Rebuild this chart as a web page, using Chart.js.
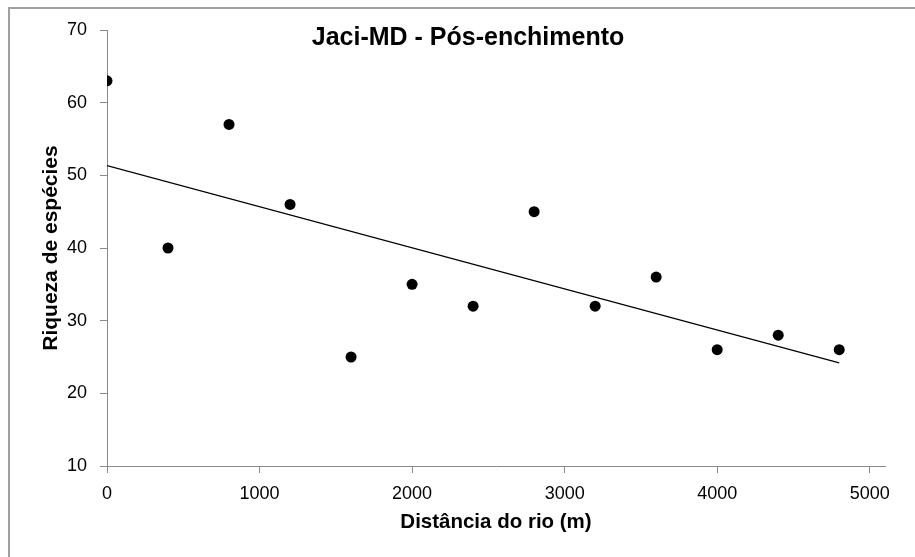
<!DOCTYPE html>
<html>
<head>
<meta charset="utf-8">
<script src="https://cdn.jsdelivr.net/npm/chart.js@4/dist/chart.umd.min.js"></script>
<style>
  html, body { margin: 0; padding: 0; background: #fff; }
  canvas { display: block; }
</style>
</head>
<body>
<canvas id="riqueza" width="915" height="557"></canvas>
<script>
// Jaci-MD, pós-enchimento: riqueza por distância do rio
var distancias = [0, 400, 800, 1200, 1600, 2000, 2400, 2800, 3200, 3600, 4000, 4400, 4800];
var riqueza = [63, 40, 57, 46, 25, 35, 32, 45, 32, 36, 26, 28, 26];
var yTicks = [10, 20, 30, 40, 50, 60, 70];
var xTicks = [0, 1000, 2000, 3000, 4000, 5000];

var titulo = 'Jaci-MD - Pós-enchimento';
var tituloX = 'Distância do rio (m)';
var tituloY = 'Riqueza de espécies';

var fonte = "'Liberation Sans', Arial, sans-serif";
var cinza = '#8a8a8a';

// linha de tendência (mínimos quadrados)
function tendencia(xs, ys) {
  var n = xs.length, mx = 0, my = 0;
  for (var i = 0; i < n; i++) { mx += xs[i]; my += ys[i]; }
  mx /= n; my /= n;
  var sxy = 0, sxx = 0;
  for (var i = 0; i < n; i++) {
    sxy += (xs[i] - mx) * (ys[i] - my);
    sxx += (xs[i] - mx) * (xs[i] - mx);
  }
  var b = sxy / sxx, a = my - b * mx;
  var x0 = xs[0], x1 = xs[n - 1];
  return [{x: x0, y: a + b * x0}, {x: x1, y: a + b * x1}];
}

var pontos = distancias.map(function (d, i) { return {x: d, y: riqueza[i]}; });

var moldura = {
  id: 'moldura',
  beforeDraw: function (chart) {
    var c = chart.ctx;
    c.save();
    c.strokeStyle = '#a0a0a0';
    c.lineWidth = 2;
    c.beginPath();
    c.moveTo(9, chart.height);
    c.lineTo(9, 8);
    c.lineTo(chart.width, 8);
    c.stroke();
    c.restore();
  },
  afterDraw: function (chart) {
    var c = chart.ctx;
    c.save();
    c.fillStyle = '#000';
    c.font = 'bold 25px ' + fonte;
    c.textAlign = 'center';
    c.textBaseline = 'middle';
    c.fillText(titulo, 468, 38);
    c.restore();
  }
};

function semSeparador(v) { return String(v); }

var ctx = document.getElementById('riqueza').getContext('2d');
var grafico = new Chart(ctx, {
  type: 'scatter',
  data: {
    datasets: [{
      data: pontos,
      backgroundColor: '#000',
      borderWidth: 0,
      pointRadius: 5.5,
      pointHoverRadius: 5.5
    }, {
      type: 'line',
      data: tendencia(distancias, riqueza),
      borderColor: '#000',
      borderWidth: 1.2,
      pointRadius: 0,
      fill: false
    }]
  },
  options: {
    responsive: false,
    animation: false,
    devicePixelRatio: 1,
    layout: { padding: { left: 0, right: 30, top: 30, bottom: 0 } },
    plugins: {
      legend: { display: false },
      tooltip: { enabled: false },
      title: { display: false }
    },
    scales: {
      x: {
        type: 'linear',
        min: 0,
        max: 5100,
        afterBuildTicks: function (s) {
          s.ticks = xTicks.map(function (v) { return {value: v}; });
        },
        afterFit: function (s) { s.height = 91; },
        border: { display: true, color: cinza, width: 1 },
        grid: { drawOnChartArea: false, drawTicks: true, tickLength: 7, tickColor: cinza },
        ticks: { color: '#000', font: { family: fonte, size: 18 }, padding: 10, maxRotation: 0, callback: semSeparador },
        title: {
          display: true,
          text: tituloX,
          color: '#000',
          font: { family: fonte, size: 20.5, weight: 'bold' },
          padding: { top: 0, bottom: 22 }
        }
      },
      y: {
        type: 'linear',
        min: 10,
        max: 70,
        afterBuildTicks: function (s) {
          s.ticks = yTicks.map(function (v) { return {value: v}; });
        },
        afterFit: function (s) { s.width = 107; },
        border: { display: true, color: cinza, width: 1 },
        grid: { drawOnChartArea: false, drawTicks: true, tickLength: 7, tickColor: cinza },
        ticks: { color: '#000', font: { family: fonte, size: 18 }, padding: 13, callback: semSeparador },
        title: {
          display: true,
          text: tituloY,
          color: '#000',
          font: { family: fonte, size: 21, weight: 'bold' },
          padding: { top: 39, bottom: 0 }
        }
      }
    }
  },
  plugins: [moldura]
});
</script>
</body>
</html>
